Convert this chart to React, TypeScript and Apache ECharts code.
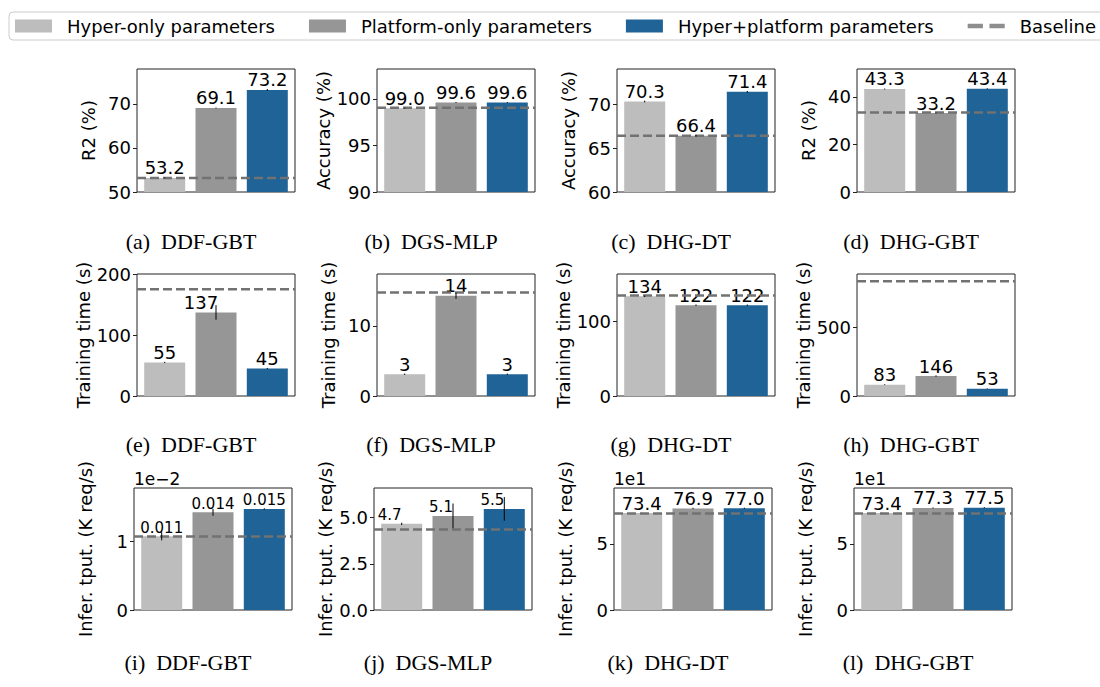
import React, { useEffect, useRef } from "react";
import * as echarts from "echarts";

// ---- categories / legend ----
const CATEGORIES = ["Hyper-only parameters", "Platform-only parameters", "Hyper+platform parameters"];
const BAR_COLORS = ["#bdbdbd", "#969696", "#1f6397"];
const BASELINE_NAME = "Baseline";
const BASELINE_COLOR = "#727272";

// ---- panel captions and y-axis titles ----
const CAPTIONS = [
  "(a)  DDF-GBT", "(b)  DGS-MLP", "(c)  DHG-DT", "(d)  DHG-GBT",
  "(e)  DDF-GBT", "(f)  DGS-MLP", "(g)  DHG-DT", "(h)  DHG-GBT",
  "(i)  DDF-GBT", "(j)  DGS-MLP", "(k)  DHG-DT", "(l)  DHG-GBT",
];
const Y_TITLES = [
  "R2 (%)", "Accuracy (%)", "Accuracy (%)", "R2 (%)",
  "Training time (s)", "Training time (s)", "Training time (s)", "Training time (s)",
  "Infer. tput. (K req/s)", "Infer. tput. (K req/s)", "Infer. tput. (K req/s)", "Infer. tput. (K req/s)",
];

// ---- bar values (hyper-only, platform-only, hyper+platform) ----
const quality_ddfGbt = [53.2, 69.1, 73.2];
const quality_dgsMlp = [99.0, 99.6, 99.6];
const quality_dhgDt = [70.3, 66.4, 71.4];
const quality_dhgGbt = [43.3, 33.2, 43.4];
const train_ddfGbt = [55, 137, 45];
const train_dgsMlp = [3.1, 14.3, 3.1];
const train_dhgDt = [134, 122, 122];
const train_dhgGbt = [83, 146, 53];
const infer_ddfGbt = [0.0108, 0.0143, 0.0148];
const infer_dgsMlp = [4.66, 5.09, 5.47];
const infer_dhgDt = [73.4, 76.9, 77.0];
const infer_dhgGbt = [73.4, 77.3, 77.5];

// ---- error (half-width) values ----
const err_quality = [[0.1, 0.1, 0.2], [0.05, 0.05, 0.05], [0.1, 0.1, 0.1], [0.2, 0.2, 0.2]];
const err_train = [[1, 12, 1], [0.1, 0.45, 0.1], [1, 1, 1], [3, 5, 2]];
const err_infer = [[0.0006, 0.0005, 0.0001], [0.06, 0.67, 0.64], [0.1, 0.5, 0.5], [0.1, 0.4, 0.4]];

// ---- baselines ----
const BASELINES = [53.2, 99.05, 66.4, 33.4, 175, 14.76, 135, 840, 0.01075, 4.35, 73.0, 73.0];

// ---- axes ----
const Y_MIN = [50, 90, 60, 0, 0, 0, 0, 0, 0, 0, 0, 0];
const Y_MAX = [77.95, 103.2, 74, 51.7, 200, 17.4, 164, 893, 0.01786, 6.6, 92.4, 92.4];
const Y_TICKS = [
  [50, 60, 70], [90, 95, 100], [60, 65, 70], [0, 20, 40],
  [0, 100, 200], [0, 10], [0, 100], [0, 500],
  [0, 0.01], [0, 2.5, 5], [0, 50], [0, 50],
];
const TICK_SCALE = [1, 1, 1, 1, 1, 1, 1, 1, 100, 1, 0.1, 0.1];
const TICK_DECIMALS = [0, 0, 0, 0, 0, 0, 0, 0, 0, 1, 0, 0];
const OFFSET_TEXT = ["", "", "", "", "", "", "", "", "1e\u22122", "", "1e1", "1e1"];
const LABEL_DECIMALS = [1, 1, 1, 1, 0, 0, 0, 0, 3, 1, 1, 1];
const LABEL_SIZE = [18, 18, 18, 18, 18, 18, 18, 18, 15, 15, 18, 18];
const LABEL_DX = [
  [0, 0, 0], [0, 0, 0], [0, 0, 0], [0, 0, 0],
  [0, -15, 0], [0, 0, 0], [0, 0, 0], [0, 0, 0],
  [0, 0, 0], [-12, -12, -12], [0, 0, 0], [0, 0, 0],
];

const VALUES = [
  quality_ddfGbt, quality_dgsMlp, quality_dhgDt, quality_dhgGbt,
  train_ddfGbt, train_dgsMlp, train_dhgDt, train_dhgGbt,
  infer_ddfGbt, infer_dgsMlp, infer_dhgDt, infer_dhgGbt,
];
const ERRORS = [...err_quality, ...err_train, ...err_infer];

const XMIN = -0.54;
const XMAX = 2.54;

// layout
const COL_X = [[137, 377, 617, 857], [137, 377, 617, 857], [134, 374, 614, 854]];
const ROW_Y = [69, 274, 488];
const ROW_H = [123, 122, 122];
const PLOT_W = 158;
const CAPTION_Y = [241, 444, 662];

function buildOption() {
  const grid: any[] = [];
  const xAxis: any[] = [];
  const yAxis: any[] = [];
  const series: any[] = [];
  const graphic: any[] = [];

  for (let p = 0; p < 12; p++) {
    const r = Math.floor(p / 4);
    const c = p % 4;
    const left = COL_X[r][c];
    const top = ROW_Y[r];
    const h = ROW_H[r];
    grid.push({
      left, top, width: PLOT_W, height: h,
      show: true, borderColor: "#222", borderWidth: 1, backgroundColor: "transparent",
      outerBoundsMode: "none",
    });
    xAxis.push({ type: "value", gridIndex: p, min: XMIN, max: XMAX, show: false, axisLine: { onZero: false } });
    const scale = TICK_SCALE[p];
    const dec = TICK_DECIMALS[p];
    yAxis.push({
      type: "value", gridIndex: p, min: Y_MIN[p], max: Y_MAX[p], position: "left",
      name: Y_TITLES[p], nameLocation: "middle", nameGap: 40,
      nameTextStyle: { fontSize: 18, color: "#000", fontFamily: "DejaVu Sans" },
      axisLine: { show: false, onZero: false },
      splitLine: { show: false },
      axisTick: { show: true, inside: false, length: 4, lineStyle: { color: "#222", width: 1 }, customValues: Y_TICKS[p] },
      axisLabel: {
        show: true, fontSize: 18, color: "#000", margin: 6, fontFamily: "DejaVu Sans",
        customValues: Y_TICKS[p],
        formatter: (v: number) => (v * scale).toFixed(dec),
      },
    });

    const vals = VALUES[p];
    const errs = ERRORS[p];
    for (let k = 0; k < 3; k++) {
      series.push({
        type: "bar", name: CATEGORIES[k], xAxisIndex: p, yAxisIndex: p,
        barWidth: 41, barGap: "-100%", z: 2,
        itemStyle: { color: BAR_COLORS[k] },
        label: {
          show: true, position: "top", distance: 1, color: "#000",
          fontSize: LABEL_SIZE[p], fontFamily: "DejaVu Sans", lineHeight: LABEL_SIZE[p],
          offset: [LABEL_DX[p][k], 0],
          formatter: (prm: any) => Number(prm.value[1]).toFixed(LABEL_DECIMALS[p]),
        },
        data: [[k, vals[k]]],
      });
    }
    series.push({
      type: "line", name: "baseline-" + p, xAxisIndex: p, yAxisIndex: p,
      symbol: "none", showSymbol: false, z: 3, silent: true,
      itemStyle: { color: BASELINE_COLOR },
      lineStyle: { color: BASELINE_COLOR, width: 2.5, type: [9, 4] },
      data: [[XMIN, BASELINES[p]], [XMAX, BASELINES[p]]],
    });
    series.push({
      type: "custom", name: "err-" + p, xAxisIndex: p, yAxisIndex: p, z: 4, silent: true,
      encode: { x: 0, y: [1, 2] },
      renderItem: (params: any, api: any) => {
        const x = api.value(0);
        const p1 = api.coord([x, api.value(1)]);
        const p2 = api.coord([x, api.value(2)]);
        return {
          type: "line",
          shape: { x1: p1[0], y1: p1[1], x2: p2[0], y2: p2[1] },
          style: { stroke: "#000", lineWidth: 1 },
        };
      },
      data: vals.map((v, k) => [k, v - errs[k], v + errs[k]]),
    });

    graphic.push({
      type: "text", x: left + PLOT_W / 2 - 25, y: CAPTION_Y[r],
      style: {
        text: CAPTIONS[p], fontSize: 22, fontFamily: "Liberation Serif", fill: "#000",
        textAlign: "center", textVerticalAlign: "middle",
      },
    });
    if (OFFSET_TEXT[p]) {
      graphic.push({
        type: "text", x: left, y: top - 1,
        style: {
          text: OFFSET_TEXT[p], fontSize: 17, fontFamily: "DejaVu Sans", fill: "#000",
          textAlign: "left", textVerticalAlign: "bottom",
        },
      });
    }
  }

  // legend-only entry for the dashed baseline
  series.push({
    type: "scatter", name: BASELINE_NAME, xAxisIndex: 0, yAxisIndex: 0,
    itemStyle: { color: BASELINE_COLOR }, data: [],
  });

  return {
    animation: false,
    backgroundColor: "#fff",
    textStyle: { fontFamily: "DejaVu Sans" },
    legend: {
      left: 9, top: 12, width: 1160, orient: "horizontal",
      itemWidth: 37, itemHeight: 13, itemGap: 34,
      padding: [5, 12, 5, 6],
      borderColor: "#cccccc", borderWidth: 1, borderRadius: 4,
      backgroundColor: "#fff",
      selectedMode: false,
      textStyle: { fontSize: 18, color: "#000", fontFamily: "DejaVu Sans", lineHeight: 18, padding: [0, 0, 0, 10] },
      data: [
        { name: CATEGORIES[0], icon: "rect" },
        { name: CATEGORIES[1], icon: "rect" },
        { name: CATEGORIES[2], icon: "rect" },
        { name: BASELINE_NAME, icon: "path://M0,0h14v4h-14z M20,0h14v4h-14z", itemStyle: { color: BASELINE_COLOR } },
      ],
    },
    grid, xAxis, yAxis, series, graphic,
  };
}

export default function App() {
  const ref = useRef<HTMLDivElement>(null);
  useEffect(() => {
    if (!ref.current) return;
    const chart = echarts.init(ref.current, null, { renderer: "svg" });
    chart.setOption(buildOption() as any);
    return () => chart.dispose();
  }, []);
  return (
    <div
      ref={ref}
      style={{ position: "fixed", left: 0, top: 0, width: 1100, height: 687, background: "#fff" }}
    />
  );
}
